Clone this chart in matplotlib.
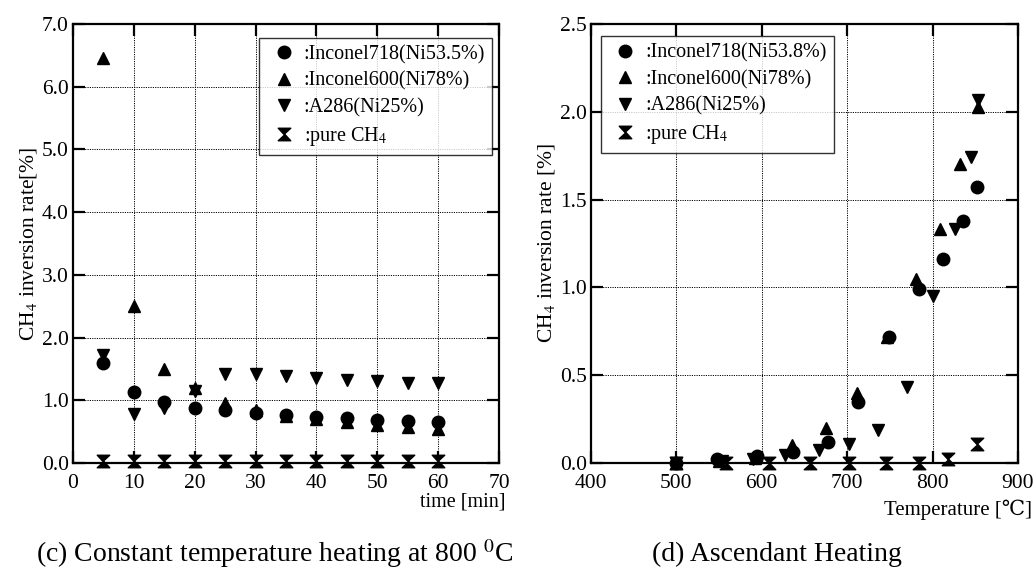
import matplotlib
matplotlib.use("Agg")
import matplotlib.pyplot as plt
from matplotlib.path import Path
import numpy as np

plt.rcParams['font.family'] = ['Liberation Serif', 'DejaVu Serif']
plt.rcParams['mathtext.fontset'] = 'stix'

# ---- (c) constant temperature heating at 800 C ----
time_min = [5, 10, 15, 20, 25, 30, 35, 40, 45, 50, 55, 60]
c_in718 = [1.60, 1.13, 0.97, 0.88, 0.85, 0.80, 0.77, 0.73, 0.71, 0.68, 0.67, 0.65]
c_in600 = [6.45, 2.50, 1.50, 1.20, 0.95, 0.85, 0.75, 0.70, 0.65, 0.60, 0.58, 0.55]
c_a286 = [1.72, 0.78, 0.88, 1.15, 1.42, 1.42, 1.38, 1.35, 1.33, 1.30, 1.28, 1.27]
c_pure = [0.03, 0.03, 0.03, 0.03, 0.03, 0.03, 0.03, 0.03, 0.03, 0.03, 0.03, 0.03]

# ---- (d) ascendant heating ----
d_in718_t = [500, 548, 594, 637, 678, 713, 749, 784, 812, 836, 852]
d_in718 = [0.0, 0.025, 0.04, 0.06, 0.12, 0.35, 0.72, 0.99, 1.16, 1.38, 1.57]
d_in600_t = [500, 550, 592, 635, 675, 712, 747, 780, 809, 832, 853]
d_in600 = [0.0, 0.01, 0.03, 0.10, 0.20, 0.40, 0.72, 1.05, 1.33, 1.70, 2.03]
d_a286_t = [500, 553, 590, 627, 667, 702, 736, 770, 800, 826, 845, 853]
d_a286 = [0.0, 0.01, 0.02, 0.047, 0.072, 0.11, 0.19, 0.43, 0.95, 1.33, 1.745, 2.07]
d_pure_t = [500, 558, 609, 656, 702, 745, 784, 818, 852]
d_pure = [0.0, 0.0, 0.0, 0.0, 0.0, 0.0, 0.0, 0.02, 0.11]

# hourglass marker for pure CH4
hourglass = Path([(-1, 1), (1, 1), (0, 0.08), (1, -1), (-1, -1), (0, -0.08), (-1, 1)],
                 [Path.MOVETO] + [Path.LINETO] * 5 + [Path.CLOSEPOLY])

W, H = 1036, 570
fig = plt.figure(figsize=(W / 100, H / 100), dpi=100)


def px_axes(l, t, r, b):
    return fig.add_axes([l / W, (H - b) / H, (r - l) / W, (b - t) / H])


def style(ax):
    for s in ax.spines.values():
        s.set_linewidth(1.6)
    ax.tick_params(direction='in', length=8.5, width=1.6, top=True, right=True,
                   labelsize=15.5)
    ax.tick_params(axis='x', pad=8)
    ax.tick_params(axis='y', pad=3)
    ax.grid(True, linestyle=(0, (1.2, 1.2)), color='black', linewidth=0.7)
    ax.set_axisbelow(True)


ms = 9
kw = dict(linestyle='none', color='black', markersize=ms, clip_on=False, zorder=3)
leg_kw = dict(fontsize=14.5, frameon=True, fancybox=False, edgecolor='black',
              handletextpad=0.15, labelspacing=0.36, borderpad=0.35, handlelength=1.7,
              borderaxespad=0)

# left panel
ax1 = px_axes(73, 24, 499, 463)
style(ax1)
ax1.plot(time_min, c_pure, marker=hourglass, label=':pure CH$_4$', **kw)
ax1.plot(time_min, c_a286, marker='v', label=':A286(Ni25%)', **kw)
ax1.plot(time_min, c_in600, marker='^', label=':Inconel600(Ni78%)', **kw)
ax1.plot(time_min, c_in718, marker='o', label=':Inconel718(Ni53.5%)', **kw)
ax1.set_xlim(0, 70)
ax1.set_ylim(0, 7.0)
ax1.set_xticks(np.arange(0, 71, 10))
ax1.set_yticks(np.arange(0, 7.01, 1.0))
ax1.set_yticklabels([f"{v:.1f}" for v in np.arange(0, 7.01, 1.0)])
ax1.set_ylabel('CH$_4$ inversion rate[%]', fontsize=15.5, labelpad=2)
ax1.text(506 / W, (H - 502) / H, 'time [min]', transform=fig.transFigure,
         ha='right', va='center', fontsize=14.5)
h, l = ax1.get_legend_handles_labels()
leg1 = ax1.legend(h[::-1], l[::-1], loc='upper right', bbox_to_anchor=(0.984, 0.968),
                  **leg_kw)
leg1.get_frame().set_linewidth(1.0)
leg1.set_zorder(5)

# right panel
ax2 = px_axes(591, 24, 1018, 463)
style(ax2)
ax2.plot(d_pure_t, d_pure, marker=hourglass, label=':pure CH$_4$', **kw)
ax2.plot(d_a286_t, d_a286, marker='v', label=':A286(Ni25%)', **kw)
ax2.plot(d_in600_t, d_in600, marker='^', label=':Inconel600(Ni78%)', **kw)
ax2.plot(d_in718_t, d_in718, marker='o', label=':Inconel718(Ni53.8%)', **kw)
ax2.set_xlim(400, 900)
ax2.set_ylim(0, 2.5)
ax2.set_xticks(np.arange(400, 901, 100))
ax2.set_yticks(np.arange(0, 2.51, 0.5))
ax2.set_yticklabels([f"{v:.1f}" for v in np.arange(0, 2.51, 0.5)])
ax2.set_ylabel('CH$_4$ inversion rate [%]', fontsize=15.5, labelpad=2)
ax2.text(1032 / W, (H - 510) / H, 'Temperature [\u2103]', transform=fig.transFigure,
         ha='right', va='center', fontsize=15)
h, l = ax2.get_legend_handles_labels()
leg2 = ax2.legend(h[::-1], l[::-1], loc='upper left', bbox_to_anchor=(0.023, 0.972),
                  **leg_kw)
leg2.get_frame().set_linewidth(1.0)
leg2.set_zorder(5)

# panel captions
fig.text(275 / W, (H - 554) / H, '(c) Constant temperature heating at 800 $^{0}$C',
         ha='center', va='center', fontsize=20, family=['Liberation Serif', 'DejaVu Serif'])
fig.text(777 / W, (H - 554) / H, '(d) Ascendant Heating',
         ha='center', va='center', fontsize=20, family=['Liberation Serif', 'DejaVu Serif'])

fig.savefig('out.png', dpi=100)
